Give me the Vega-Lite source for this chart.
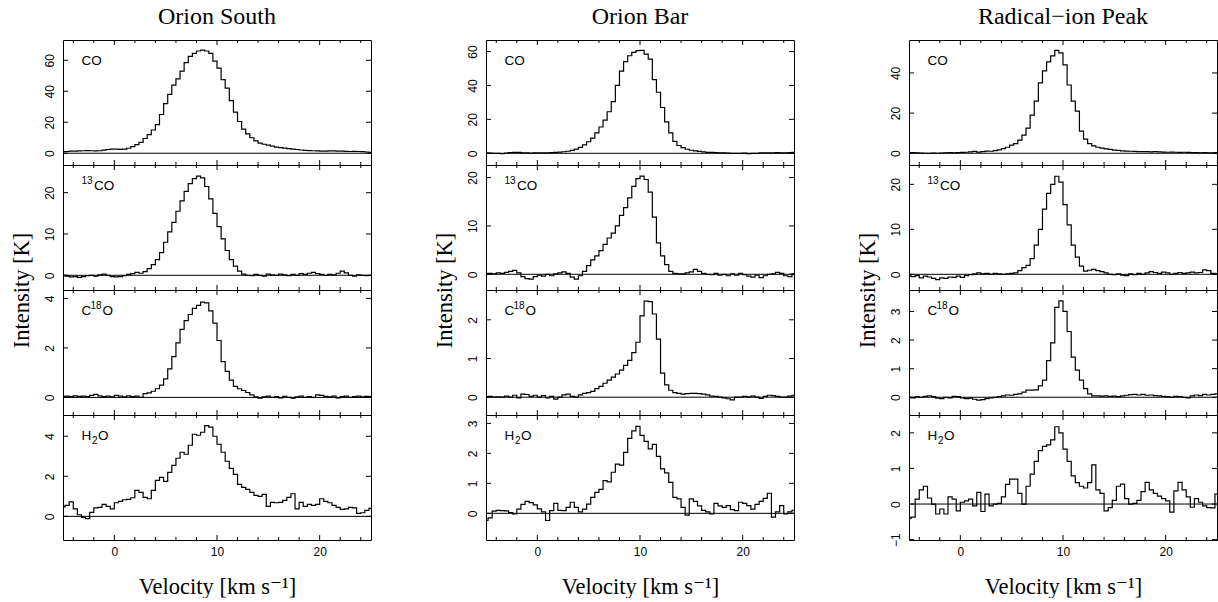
{
"$schema":"https://vega.github.io/schema/vega-lite/v6.json",
"background":"white",
"padding":{"left":9,"top":4,"right":0,"bottom":0},
"config":{"view":{"stroke":"black","strokeWidth":1},
"axis":{"grid":false,"domainColor":"black","tickColor":"black","labelColor":"black","titleColor":"black","labelFont":"Liberation Sans","labelFontSize":12,"titleFont":"Liberation Serif, DejaVu Serif","titleFontSize":22.5,"titleFontWeight":"normal","labelFlush":false,"labelOverlap":false,"labelBound":false},
"title":{"font":"Liberation Serif","fontSize":24,"fontWeight":"normal","color":"black"}},
"datasets":{
"xt":[{"v":-4,"k":"minor"},{"v":-2,"k":"minor"},{"v":0,"k":"major"},{"v":2,"k":"minor"},{"v":4,"k":"minor"},{"v":6,"k":"minor"},{"v":8,"k":"minor"},{"v":10,"k":"major"},{"v":12,"k":"minor"},{"v":14,"k":"minor"},{"v":16,"k":"minor"},{"v":18,"k":"minor"},{"v":20,"k":"major"},{"v":22,"k":"minor"},{"v":24,"k":"minor"}],
"a1":[{"v":-5,"t":1.0},{"v":-4.6,"t":1.1},{"v":-4.2,"t":1.3},{"v":-3.8,"t":1.4},{"v":-3.4,"t":1.5},{"v":-3,"t":1.6},{"v":-2.6,"t":1.7},{"v":-2.2,"t":1.6},{"v":-1.8,"t":1.5},{"v":-1.4,"t":1.6},{"v":-1,"t":2.0},{"v":-0.6,"t":2.4},{"v":-0.2,"t":2.6},{"v":0.2,"t":2.7},{"v":0.6,"t":2.5},{"v":1,"t":2.6},{"v":1.4,"t":3.2},{"v":1.8,"t":4.2},{"v":2.2,"t":5.5},{"v":2.6,"t":7.0},{"v":3,"t":9.5},{"v":3.4,"t":12.0},{"v":3.8,"t":15.0},{"v":4.2,"t":18.5},{"v":4.6,"t":25.0},{"v":5,"t":32.0},{"v":5.4,"t":38.0},{"v":5.8,"t":44.0},{"v":6.2,"t":48.0},{"v":6.6,"t":53.0},{"v":7,"t":58.5},{"v":7.4,"t":62.5},{"v":7.8,"t":64.5},{"v":8.2,"t":66.0},{"v":8.6,"t":66.5},{"v":9,"t":66.0},{"v":9.4,"t":64.5},{"v":9.8,"t":59.5},{"v":10.2,"t":55.0},{"v":10.6,"t":47.5},{"v":11,"t":42.0},{"v":11.4,"t":34.0},{"v":11.8,"t":26.5},{"v":12.2,"t":20.5},{"v":12.6,"t":15.6},{"v":13,"t":12.5},{"v":13.4,"t":10.0},{"v":13.8,"t":8.0},{"v":14.2,"t":6.5},{"v":14.6,"t":5.8},{"v":15,"t":5.2},{"v":15.4,"t":4.6},{"v":15.8,"t":4.0},{"v":16.2,"t":3.6},{"v":16.6,"t":3.3},{"v":17,"t":3.0},{"v":17.4,"t":2.7},{"v":17.8,"t":2.4},{"v":18.2,"t":2.1},{"v":18.6,"t":1.9},{"v":19,"t":1.7},{"v":19.4,"t":1.6},{"v":19.8,"t":1.5},{"v":20.2,"t":1.4},{"v":20.6,"t":1.4},{"v":21,"t":1.5},{"v":21.4,"t":1.5},{"v":21.8,"t":1.4},{"v":22.2,"t":1.3},{"v":22.6,"t":1.2},{"v":23,"t":1.1},{"v":23.4,"t":1.2},{"v":23.8,"t":1.1},{"v":24.2,"t":1.0},{"v":24.6,"t":0.8},{"v":25,"t":0.5}],
"a2":[{"v":-5,"t":0.0},{"v":-4.6,"t":-0.2},{"v":-4.2,"t":-0.4},{"v":-3.8,"t":-0.3},{"v":-3.4,"t":-0.5},{"v":-3,"t":-0.3},{"v":-2.6,"t":-0.1},{"v":-2.2,"t":0.0},{"v":-1.8,"t":-0.2},{"v":-1.4,"t":0.1},{"v":-1,"t":0.3},{"v":-0.6,"t":0.0},{"v":-0.2,"t":-0.3},{"v":0.2,"t":-0.4},{"v":0.6,"t":-0.3},{"v":1,"t":-0.1},{"v":1.4,"t":0.2},{"v":1.8,"t":0.4},{"v":2.2,"t":0.7},{"v":2.6,"t":0.5},{"v":3,"t":0.9},{"v":3.4,"t":1.6},{"v":3.8,"t":2.6},{"v":4.2,"t":3.8},{"v":4.6,"t":5.5},{"v":5,"t":8.0},{"v":5.4,"t":10.5},{"v":5.8,"t":12.8},{"v":6.2,"t":15.5},{"v":6.6,"t":18.0},{"v":7,"t":20.3},{"v":7.4,"t":22.2},{"v":7.8,"t":23.4},{"v":8.2,"t":24.0},{"v":8.6,"t":23.6},{"v":9,"t":21.5},{"v":9.4,"t":18.5},{"v":9.8,"t":15.0},{"v":10.2,"t":11.8},{"v":10.6,"t":8.8},{"v":11,"t":6.0},{"v":11.4,"t":3.8},{"v":11.8,"t":2.2},{"v":12.2,"t":1.0},{"v":12.6,"t":0.3},{"v":13,"t":0.0},{"v":13.4,"t":-0.1},{"v":13.8,"t":0.2},{"v":14.2,"t":0.0},{"v":14.6,"t":-0.2},{"v":15,"t":0.3},{"v":15.4,"t":0.1},{"v":15.8,"t":0.0},{"v":16.2,"t":0.3},{"v":16.6,"t":0.1},{"v":17,"t":-0.1},{"v":17.4,"t":0.2},{"v":17.8,"t":0.0},{"v":18.2,"t":0.4},{"v":18.6,"t":0.2},{"v":19,"t":0.5},{"v":19.4,"t":0.7},{"v":19.8,"t":0.4},{"v":20.2,"t":0.2},{"v":20.6,"t":0.0},{"v":21,"t":0.2},{"v":21.4,"t":0.1},{"v":21.8,"t":0.5},{"v":22.2,"t":1.0},{"v":22.6,"t":0.6},{"v":23,"t":0.0},{"v":23.4,"t":-0.2},{"v":23.8,"t":0.1},{"v":24.2,"t":0.0},{"v":24.6,"t":-0.1},{"v":25,"t":0.0}],
"a3":[{"v":-5,"t":0.02},{"v":-4.6,"t":0.05},{"v":-4.2,"t":0.03},{"v":-3.8,"t":0.06},{"v":-3.4,"t":0.04},{"v":-3,"t":0.05},{"v":-2.6,"t":0.03},{"v":-2.2,"t":0.08},{"v":-1.8,"t":0.12},{"v":-1.4,"t":0.06},{"v":-1,"t":0.03},{"v":-0.6,"t":0.05},{"v":-0.2,"t":0.02},{"v":0.2,"t":0.08},{"v":0.6,"t":0.05},{"v":1,"t":0.02},{"v":1.4,"t":0.06},{"v":1.8,"t":0.03},{"v":2.2,"t":0.05},{"v":2.6,"t":0.0},{"v":3,"t":0.15},{"v":3.4,"t":0.18},{"v":3.8,"t":0.25},{"v":4.2,"t":0.35},{"v":4.6,"t":0.5},{"v":5,"t":0.75},{"v":5.4,"t":1.15},{"v":5.8,"t":1.65},{"v":6.2,"t":2.2},{"v":6.6,"t":2.75},{"v":7,"t":3.1},{"v":7.4,"t":3.35},{"v":7.8,"t":3.6},{"v":8.2,"t":3.72},{"v":8.6,"t":3.85},{"v":9,"t":3.82},{"v":9.4,"t":3.5},{"v":9.8,"t":3.0},{"v":10.2,"t":2.3},{"v":10.6,"t":1.45},{"v":11,"t":1.05},{"v":11.4,"t":0.7},{"v":11.8,"t":0.45},{"v":12.2,"t":0.35},{"v":12.6,"t":0.28},{"v":13,"t":0.2},{"v":13.4,"t":0.1},{"v":13.8,"t":0.02},{"v":14.2,"t":-0.03},{"v":14.6,"t":0.02},{"v":15,"t":0.05},{"v":15.4,"t":0.0},{"v":15.8,"t":0.03},{"v":16.2,"t":-0.02},{"v":16.6,"t":0.04},{"v":17,"t":0.0},{"v":17.4,"t":-0.03},{"v":17.8,"t":0.02},{"v":18.2,"t":0.05},{"v":18.6,"t":0.0},{"v":19,"t":0.03},{"v":19.4,"t":0.0},{"v":19.8,"t":0.1},{"v":20.2,"t":0.08},{"v":20.6,"t":0.04},{"v":21,"t":0.02},{"v":21.4,"t":0.05},{"v":21.8,"t":-0.02},{"v":22.2,"t":0.03},{"v":22.6,"t":0.05},{"v":23,"t":0.0},{"v":23.4,"t":0.03},{"v":23.8,"t":0.05},{"v":24.2,"t":0.02},{"v":24.6,"t":0.04},{"v":25,"t":0.03}],
"a4":[{"v":-5,"t":0.47},{"v":-4.6,"t":0.55},{"v":-4.2,"t":0.72},{"v":-3.8,"t":0.37},{"v":-3.4,"t":0.08},{"v":-3,"t":-0.05},{"v":-2.6,"t":-0.11},{"v":-2.2,"t":0.2},{"v":-1.8,"t":0.42},{"v":-1.4,"t":0.45},{"v":-1,"t":0.6},{"v":-0.6,"t":0.5},{"v":-0.2,"t":0.37},{"v":0.2,"t":0.68},{"v":0.6,"t":0.75},{"v":1,"t":0.83},{"v":1.4,"t":0.85},{"v":1.8,"t":0.93},{"v":2.2,"t":1.3},{"v":2.6,"t":1.2},{"v":3,"t":0.95},{"v":3.4,"t":0.88},{"v":3.8,"t":1.3},{"v":4.2,"t":1.8},{"v":4.6,"t":1.95},{"v":5,"t":1.75},{"v":5.4,"t":2.2},{"v":5.8,"t":2.55},{"v":6.2,"t":2.9},{"v":6.6,"t":3.2},{"v":7,"t":3.1},{"v":7.4,"t":3.55},{"v":7.8,"t":4.1},{"v":8.2,"t":4.05},{"v":8.6,"t":4.2},{"v":9,"t":4.53},{"v":9.4,"t":4.45},{"v":9.8,"t":4.0},{"v":10.2,"t":3.6},{"v":10.6,"t":3.2},{"v":11,"t":2.75},{"v":11.4,"t":2.4},{"v":11.8,"t":2.1},{"v":12.2,"t":1.6},{"v":12.6,"t":1.45},{"v":13,"t":1.35},{"v":13.4,"t":1.2},{"v":13.8,"t":1.05},{"v":14.2,"t":1.0},{"v":14.6,"t":1.1},{"v":15,"t":0.5},{"v":15.4,"t":0.7},{"v":15.8,"t":0.68},{"v":16.2,"t":0.7},{"v":16.6,"t":0.8},{"v":17,"t":0.95},{"v":17.4,"t":1.13},{"v":17.8,"t":0.37},{"v":18.2,"t":0.7},{"v":18.6,"t":0.5},{"v":19,"t":0.6},{"v":19.4,"t":0.55},{"v":19.8,"t":0.6},{"v":20.2,"t":0.88},{"v":20.6,"t":0.75},{"v":21,"t":0.68},{"v":21.4,"t":0.55},{"v":21.8,"t":0.45},{"v":22.2,"t":0.35},{"v":22.6,"t":0.37},{"v":23,"t":0.45},{"v":23.4,"t":0.42},{"v":23.8,"t":0.15},{"v":24.2,"t":0.18},{"v":24.6,"t":0.3},{"v":25,"t":0.4}],
"b1":[{"v":-5,"t":0.2},{"v":-4.6,"t":0.1},{"v":-4.2,"t":0.0},{"v":-3.8,"t":-0.1},{"v":-3.4,"t":-0.2},{"v":-3,"t":0.1},{"v":-2.6,"t":0.4},{"v":-2.2,"t":0.6},{"v":-1.8,"t":0.5},{"v":-1.4,"t":0.3},{"v":-1,"t":0.2},{"v":-0.6,"t":0.1},{"v":-0.2,"t":0.2},{"v":0.2,"t":0.3},{"v":0.6,"t":0.2},{"v":1,"t":0.3},{"v":1.4,"t":0.4},{"v":1.8,"t":0.5},{"v":2.2,"t":0.7},{"v":2.6,"t":0.9},{"v":3,"t":1.2},{"v":3.4,"t":1.7},{"v":3.8,"t":2.5},{"v":4.2,"t":3.5},{"v":4.6,"t":5.0},{"v":5,"t":6.8},{"v":5.4,"t":9.0},{"v":5.8,"t":12.0},{"v":6.2,"t":15.5},{"v":6.6,"t":19.5},{"v":7,"t":24.5},{"v":7.4,"t":30.5},{"v":7.8,"t":40.0},{"v":8.2,"t":48.5},{"v":8.6,"t":54.0},{"v":9,"t":57.5},{"v":9.4,"t":59.5},{"v":9.8,"t":60.5},{"v":10.2,"t":60.7},{"v":10.6,"t":58.5},{"v":11,"t":55.5},{"v":11.4,"t":43.4},{"v":11.8,"t":36.0},{"v":12.2,"t":27.0},{"v":12.6,"t":18.5},{"v":13,"t":12.0},{"v":13.4,"t":7.0},{"v":13.8,"t":4.6},{"v":14.2,"t":3.3},{"v":14.6,"t":2.4},{"v":15,"t":1.8},{"v":15.4,"t":1.4},{"v":15.8,"t":1.1},{"v":16.2,"t":0.8},{"v":16.6,"t":0.6},{"v":17,"t":0.5},{"v":17.4,"t":0.4},{"v":17.8,"t":0.3},{"v":18.2,"t":0.2},{"v":18.6,"t":0.1},{"v":19,"t":0.0},{"v":19.4,"t":-0.1},{"v":19.8,"t":0.0},{"v":20.2,"t":0.1},{"v":20.6,"t":-0.2},{"v":21,"t":-0.1},{"v":21.4,"t":0.0},{"v":21.8,"t":0.2},{"v":22.2,"t":0.3},{"v":22.6,"t":0.2},{"v":23,"t":0.3},{"v":23.4,"t":0.4},{"v":23.8,"t":0.3},{"v":24.2,"t":0.2},{"v":24.6,"t":0.4},{"v":25,"t":0.6}],
"b2":[{"v":-5,"t":0.1},{"v":-4.6,"t":0.2},{"v":-4.2,"t":0.1},{"v":-3.8,"t":0.3},{"v":-3.4,"t":0.2},{"v":-3,"t":0.4},{"v":-2.6,"t":0.6},{"v":-2.2,"t":0.8},{"v":-1.8,"t":0.3},{"v":-1.4,"t":-0.5},{"v":-1,"t":-0.9},{"v":-0.6,"t":-1.0},{"v":-0.2,"t":-0.5},{"v":0.2,"t":-0.2},{"v":0.6,"t":-0.4},{"v":1,"t":0.0},{"v":1.4,"t":-0.3},{"v":1.8,"t":0.1},{"v":2.2,"t":0.3},{"v":2.6,"t":0.5},{"v":3,"t":0.2},{"v":3.4,"t":-0.6},{"v":3.8,"t":-1.0},{"v":4.2,"t":-0.3},{"v":4.6,"t":0.6},{"v":5,"t":1.8},{"v":5.4,"t":3.0},{"v":5.8,"t":3.8},{"v":6.2,"t":4.9},{"v":6.6,"t":6.2},{"v":7,"t":7.5},{"v":7.4,"t":8.5},{"v":7.8,"t":10.0},{"v":8.2,"t":12.2},{"v":8.6,"t":13.8},{"v":9,"t":15.8},{"v":9.4,"t":18.2},{"v":9.8,"t":19.8},{"v":10.2,"t":20.3},{"v":10.6,"t":19.6},{"v":11,"t":17.0},{"v":11.4,"t":11.8},{"v":11.8,"t":6.5},{"v":12.2,"t":3.8},{"v":12.6,"t":2.0},{"v":13,"t":0.6},{"v":13.4,"t":0.2},{"v":13.8,"t":0.1},{"v":14.2,"t":0.1},{"v":14.6,"t":0.3},{"v":15,"t":0.5},{"v":15.4,"t":1.0},{"v":15.8,"t":0.6},{"v":16.2,"t":0.2},{"v":16.6,"t":0.0},{"v":17,"t":-0.1},{"v":17.4,"t":0.2},{"v":17.8,"t":-0.2},{"v":18.2,"t":0.0},{"v":18.6,"t":-0.3},{"v":19,"t":0.1},{"v":19.4,"t":-0.2},{"v":19.8,"t":0.2},{"v":20.2,"t":-0.1},{"v":20.6,"t":-0.4},{"v":21,"t":-0.6},{"v":21.4,"t":-0.2},{"v":21.8,"t":-0.7},{"v":22.2,"t":-0.3},{"v":22.6,"t":0.0},{"v":23,"t":0.1},{"v":23.4,"t":0.4},{"v":23.8,"t":0.2},{"v":24.2,"t":-0.3},{"v":24.6,"t":-0.5},{"v":25,"t":0.1}],
"b3":[{"v":-5,"t":0.0},{"v":-4.6,"t":0.02},{"v":-4.2,"t":0.0},{"v":-3.8,"t":0.01},{"v":-3.4,"t":0.0},{"v":-3,"t":0.03},{"v":-2.6,"t":0.0},{"v":-2.2,"t":0.05},{"v":-1.8,"t":-0.02},{"v":-1.4,"t":0.08},{"v":-1,"t":0.07},{"v":-0.6,"t":0.02},{"v":-0.2,"t":0.05},{"v":0.2,"t":0.0},{"v":0.6,"t":0.04},{"v":1,"t":-0.02},{"v":1.4,"t":0.02},{"v":1.8,"t":-0.05},{"v":2.2,"t":0.0},{"v":2.6,"t":0.06},{"v":3,"t":0.08},{"v":3.4,"t":0.02},{"v":3.8,"t":0.0},{"v":4.2,"t":0.06},{"v":4.6,"t":0.1},{"v":5,"t":0.12},{"v":5.4,"t":0.15},{"v":5.8,"t":0.22},{"v":6.2,"t":0.28},{"v":6.6,"t":0.36},{"v":7,"t":0.44},{"v":7.4,"t":0.52},{"v":7.8,"t":0.6},{"v":8.2,"t":0.7},{"v":8.6,"t":0.82},{"v":9,"t":0.95},{"v":9.4,"t":1.15},{"v":9.8,"t":1.42},{"v":10.2,"t":2.1},{"v":10.6,"t":2.48},{"v":11,"t":2.47},{"v":11.4,"t":2.15},{"v":11.8,"t":1.5},{"v":12.2,"t":0.62},{"v":12.6,"t":0.32},{"v":13,"t":0.18},{"v":13.4,"t":0.12},{"v":13.8,"t":0.1},{"v":14.2,"t":0.08},{"v":14.6,"t":0.09},{"v":15,"t":0.1},{"v":15.4,"t":0.1},{"v":15.8,"t":0.09},{"v":16.2,"t":0.08},{"v":16.6,"t":0.06},{"v":17,"t":0.03},{"v":17.4,"t":0.02},{"v":17.8,"t":0.0},{"v":18.2,"t":-0.02},{"v":18.6,"t":-0.04},{"v":19,"t":-0.07},{"v":19.4,"t":0.0},{"v":19.8,"t":0.0},{"v":20.2,"t":0.02},{"v":20.6,"t":0.01},{"v":21,"t":0.03},{"v":21.4,"t":0.0},{"v":21.8,"t":-0.03},{"v":22.2,"t":0.02},{"v":22.6,"t":0.05},{"v":23,"t":0.04},{"v":23.4,"t":0.02},{"v":23.8,"t":0.0},{"v":24.2,"t":0.0},{"v":24.6,"t":0.03},{"v":25,"t":0.05}],
"b4":[{"v":-5,"t":-0.24},{"v":-4.6,"t":-0.15},{"v":-4.2,"t":0.07},{"v":-3.8,"t":0.1},{"v":-3.4,"t":0.09},{"v":-3,"t":0.08},{"v":-2.6,"t":0.02},{"v":-2.2,"t":-0.02},{"v":-1.8,"t":0.14},{"v":-1.4,"t":0.3},{"v":-1,"t":0.4},{"v":-0.6,"t":0.36},{"v":-0.2,"t":0.28},{"v":0.2,"t":0.15},{"v":0.6,"t":0.05},{"v":1,"t":-0.24},{"v":1.4,"t":0.09},{"v":1.8,"t":0.33},{"v":2.2,"t":0.1},{"v":2.6,"t":0.09},{"v":3,"t":0.2},{"v":3.4,"t":0.37},{"v":3.8,"t":0.2},{"v":4.2,"t":0.05},{"v":4.6,"t":0.14},{"v":5,"t":0.31},{"v":5.4,"t":0.53},{"v":5.8,"t":0.7},{"v":6.2,"t":0.8},{"v":6.6,"t":1.09},{"v":7,"t":1.05},{"v":7.4,"t":1.37},{"v":7.8,"t":1.64},{"v":8.2,"t":1.61},{"v":8.6,"t":2.03},{"v":9,"t":2.5},{"v":9.4,"t":2.75},{"v":9.8,"t":2.9},{"v":10.2,"t":2.6},{"v":10.6,"t":2.4},{"v":11,"t":2.15},{"v":11.4,"t":2.3},{"v":11.8,"t":1.9},{"v":12.2,"t":1.48},{"v":12.6,"t":1.35},{"v":13,"t":1.03},{"v":13.4,"t":0.53},{"v":13.8,"t":0.48},{"v":14.2,"t":0.2},{"v":14.6,"t":-0.06},{"v":15,"t":0.48},{"v":15.4,"t":0.4},{"v":15.8,"t":0.25},{"v":16.2,"t":0.1},{"v":16.6,"t":0.05},{"v":17,"t":-0.02},{"v":17.4,"t":0.33},{"v":17.8,"t":0.25},{"v":18.2,"t":0.2},{"v":18.6,"t":0.26},{"v":19,"t":0.12},{"v":19.4,"t":0.09},{"v":19.8,"t":0.37},{"v":20.2,"t":0.33},{"v":20.6,"t":0.26},{"v":21,"t":0.14},{"v":21.4,"t":0.3},{"v":21.8,"t":0.4},{"v":22.2,"t":0.5},{"v":22.6,"t":0.67},{"v":23,"t":-0.13},{"v":23.4,"t":0.05},{"v":23.8,"t":0.26},{"v":24.2,"t":-0.02},{"v":24.6,"t":0.05},{"v":25,"t":0.1}],
"c1":[{"v":-5,"t":0.2},{"v":-4.6,"t":0.3},{"v":-4.2,"t":0.2},{"v":-3.8,"t":0.1},{"v":-3.4,"t":0.0},{"v":-3,"t":0.0},{"v":-2.6,"t":0.1},{"v":-2.2,"t":0.0},{"v":-1.8,"t":0.1},{"v":-1.4,"t":0.2},{"v":-1,"t":0.3},{"v":-0.6,"t":0.2},{"v":-0.2,"t":0.3},{"v":0.2,"t":0.4},{"v":0.6,"t":0.5},{"v":1,"t":0.7},{"v":1.4,"t":0.9},{"v":1.8,"t":0.6},{"v":2.2,"t":0.8},{"v":2.6,"t":1.1},{"v":3,"t":1.0},{"v":3.4,"t":1.3},{"v":3.8,"t":1.7},{"v":4.2,"t":2.3},{"v":4.6,"t":3.0},{"v":5,"t":4.0},{"v":5.4,"t":4.8},{"v":5.8,"t":6.5},{"v":6.2,"t":9.0},{"v":6.6,"t":12.5},{"v":7,"t":19.0},{"v":7.4,"t":26.0},{"v":7.8,"t":35.0},{"v":8.2,"t":41.0},{"v":8.6,"t":45.5},{"v":9,"t":48.5},{"v":9.4,"t":51.2},{"v":9.8,"t":50.0},{"v":10.2,"t":44.0},{"v":10.6,"t":34.0},{"v":11,"t":26.0},{"v":11.4,"t":21.0},{"v":11.8,"t":11.0},{"v":12.2,"t":7.0},{"v":12.6,"t":4.8},{"v":13,"t":3.7},{"v":13.4,"t":3.0},{"v":13.8,"t":2.6},{"v":14.2,"t":2.2},{"v":14.6,"t":1.9},{"v":15,"t":1.6},{"v":15.4,"t":1.4},{"v":15.8,"t":1.2},{"v":16.2,"t":1.1},{"v":16.6,"t":1.0},{"v":17,"t":0.9},{"v":17.4,"t":0.8},{"v":17.8,"t":0.8},{"v":18.2,"t":0.8},{"v":18.6,"t":0.7},{"v":19,"t":0.8},{"v":19.4,"t":0.7},{"v":19.8,"t":0.6},{"v":20.2,"t":0.5},{"v":20.6,"t":0.6},{"v":21,"t":0.5},{"v":21.4,"t":0.4},{"v":21.8,"t":0.5},{"v":22.2,"t":0.4},{"v":22.6,"t":0.3},{"v":23,"t":0.3},{"v":23.4,"t":0.2},{"v":23.8,"t":0.3},{"v":24.2,"t":0.2},{"v":24.6,"t":0.2},{"v":25,"t":0.3}],
"c2":[{"v":-5,"t":-0.2},{"v":-4.6,"t":-0.5},{"v":-4.2,"t":-0.3},{"v":-3.8,"t":-0.8},{"v":-3.4,"t":-0.4},{"v":-3,"t":-0.6},{"v":-2.6,"t":-0.9},{"v":-2.2,"t":-1.2},{"v":-1.8,"t":-0.8},{"v":-1.4,"t":-0.9},{"v":-1,"t":-0.6},{"v":-0.6,"t":-0.7},{"v":-0.2,"t":-0.4},{"v":0.2,"t":-0.7},{"v":0.6,"t":-0.3},{"v":1,"t":-0.1},{"v":1.4,"t":0.1},{"v":1.8,"t":0.3},{"v":2.2,"t":0.1},{"v":2.6,"t":0.2},{"v":3,"t":0.0},{"v":3.4,"t":0.2},{"v":3.8,"t":0.1},{"v":4.2,"t":0.0},{"v":4.6,"t":0.1},{"v":5,"t":0.2},{"v":5.4,"t":0.3},{"v":5.8,"t":0.8},{"v":6.2,"t":1.5},{"v":6.6,"t":2.0},{"v":7,"t":3.5},{"v":7.4,"t":6.5},{"v":7.8,"t":10.0},{"v":8.2,"t":14.5},{"v":8.6,"t":18.0},{"v":9,"t":20.0},{"v":9.4,"t":21.8},{"v":9.8,"t":20.5},{"v":10.2,"t":15.5},{"v":10.6,"t":11.0},{"v":11,"t":6.5},{"v":11.4,"t":3.8},{"v":11.8,"t":1.8},{"v":12.2,"t":0.7},{"v":12.6,"t":0.9},{"v":13,"t":1.1},{"v":13.4,"t":0.8},{"v":13.8,"t":0.6},{"v":14.2,"t":0.3},{"v":14.6,"t":0.0},{"v":15,"t":-0.1},{"v":15.4,"t":0.1},{"v":15.8,"t":-0.2},{"v":16.2,"t":-0.3},{"v":16.6,"t":0.1},{"v":17,"t":-0.1},{"v":17.4,"t":0.2},{"v":17.8,"t":0.0},{"v":18.2,"t":0.3},{"v":18.6,"t":0.6},{"v":19,"t":0.4},{"v":19.4,"t":0.2},{"v":19.8,"t":0.5},{"v":20.2,"t":0.3},{"v":20.6,"t":0.0},{"v":21,"t":0.2},{"v":21.4,"t":0.4},{"v":21.8,"t":0.2},{"v":22.2,"t":0.3},{"v":22.6,"t":0.5},{"v":23,"t":0.3},{"v":23.4,"t":0.4},{"v":23.8,"t":1.0},{"v":24.2,"t":0.8},{"v":24.6,"t":0.2},{"v":25,"t":0.1}],
"c3":[{"v":-5,"t":0.0},{"v":-4.6,"t":-0.02},{"v":-4.2,"t":0.02},{"v":-3.8,"t":0.0},{"v":-3.4,"t":0.03},{"v":-3,"t":0.05},{"v":-2.6,"t":0.02},{"v":-2.2,"t":-0.03},{"v":-1.8,"t":-0.05},{"v":-1.4,"t":0.0},{"v":-1,"t":-0.02},{"v":-0.6,"t":0.03},{"v":-0.2,"t":0.02},{"v":0.2,"t":-0.02},{"v":0.6,"t":-0.05},{"v":1,"t":-0.03},{"v":1.4,"t":-0.07},{"v":1.8,"t":-0.1},{"v":2.2,"t":-0.08},{"v":2.6,"t":-0.05},{"v":3,"t":-0.02},{"v":3.4,"t":0.0},{"v":3.8,"t":0.02},{"v":4.2,"t":0.05},{"v":4.6,"t":0.08},{"v":5,"t":0.07},{"v":5.4,"t":0.1},{"v":5.8,"t":0.12},{"v":6.2,"t":0.18},{"v":6.6,"t":0.25},{"v":7,"t":0.25},{"v":7.4,"t":0.26},{"v":7.8,"t":0.4},{"v":8.2,"t":0.6},{"v":8.6,"t":1.28},{"v":9,"t":1.9},{"v":9.4,"t":3.14},{"v":9.8,"t":3.37},{"v":10.2,"t":3.0},{"v":10.6,"t":2.3},{"v":11,"t":1.4},{"v":11.4,"t":0.95},{"v":11.8,"t":0.6},{"v":12.2,"t":0.3},{"v":12.6,"t":0.12},{"v":13,"t":0.05},{"v":13.4,"t":0.05},{"v":13.8,"t":0.04},{"v":14.2,"t":0.05},{"v":14.6,"t":0.03},{"v":15,"t":0.04},{"v":15.4,"t":0.02},{"v":15.8,"t":0.05},{"v":16.2,"t":0.07},{"v":16.6,"t":0.09},{"v":17,"t":0.1},{"v":17.4,"t":0.08},{"v":17.8,"t":0.1},{"v":18.2,"t":0.07},{"v":18.6,"t":0.08},{"v":19,"t":0.06},{"v":19.4,"t":0.05},{"v":19.8,"t":0.03},{"v":20.2,"t":0.02},{"v":20.6,"t":0.0},{"v":21,"t":0.03},{"v":21.4,"t":0.02},{"v":21.8,"t":0.0},{"v":22.2,"t":-0.02},{"v":22.6,"t":0.05},{"v":23,"t":0.08},{"v":23.4,"t":0.06},{"v":23.8,"t":0.1},{"v":24.2,"t":0.08},{"v":24.6,"t":0.1},{"v":25,"t":0.12}],
"c4":[{"v":-5,"t":-0.4},{"v":-4.6,"t":-0.37},{"v":-4.2,"t":0.14},{"v":-3.8,"t":0.4},{"v":-3.4,"t":0.5},{"v":-3,"t":0.17},{"v":-2.6,"t":0.0},{"v":-2.2,"t":-0.28},{"v":-1.8,"t":-0.14},{"v":-1.4,"t":-0.28},{"v":-1,"t":0.2},{"v":-0.6,"t":0.14},{"v":-0.2,"t":-0.19},{"v":0.2,"t":0.05},{"v":0.6,"t":0.09},{"v":1,"t":0.14},{"v":1.4,"t":-0.05},{"v":1.8,"t":0.33},{"v":2.2,"t":-0.21},{"v":2.6,"t":0.28},{"v":3,"t":-0.05},{"v":3.4,"t":0.0},{"v":3.8,"t":0.02},{"v":4.2,"t":0.2},{"v":4.6,"t":0.55},{"v":5,"t":0.7},{"v":5.4,"t":0.7},{"v":5.8,"t":0.3},{"v":6.2,"t":0.0},{"v":6.6,"t":0.5},{"v":7,"t":0.84},{"v":7.4,"t":1.2},{"v":7.8,"t":1.5},{"v":8.2,"t":1.62},{"v":8.6,"t":1.66},{"v":9,"t":1.8},{"v":9.4,"t":2.17},{"v":9.8,"t":2.0},{"v":10.2,"t":1.54},{"v":10.6,"t":1.2},{"v":11,"t":0.79},{"v":11.4,"t":0.6},{"v":11.8,"t":0.5},{"v":12.2,"t":0.45},{"v":12.6,"t":0.6},{"v":13,"t":1.1},{"v":13.4,"t":0.4},{"v":13.8,"t":0.3},{"v":14.2,"t":-0.19},{"v":14.6,"t":-0.1},{"v":15,"t":0.1},{"v":15.4,"t":0.5},{"v":15.8,"t":0.56},{"v":16.2,"t":0.15},{"v":16.6,"t":0.0},{"v":17,"t":0.02},{"v":17.4,"t":0.1},{"v":17.8,"t":0.35},{"v":18.2,"t":0.61},{"v":18.6,"t":0.4},{"v":19,"t":0.3},{"v":19.4,"t":0.22},{"v":19.8,"t":0.15},{"v":20.2,"t":0.09},{"v":20.6,"t":-0.23},{"v":21,"t":0.37},{"v":21.4,"t":0.61},{"v":21.8,"t":0.4},{"v":22.2,"t":0.2},{"v":22.6,"t":-0.09},{"v":23,"t":0.15},{"v":23.4,"t":0.05},{"v":23.8,"t":-0.05},{"v":24.2,"t":-0.1},{"v":24.6,"t":-0.11},{"v":25,"t":0.28}]
},
"columns":3,
"spacing":{"row":0,"column":115},
"bounds":"flush",
"concat":[
{"width":308,"height":125,"title":{"text":"Orion South","anchor":"middle","frame":"group","offset":11.5},"layer":[
{"data":{"name":"a1"},"mark":{"type":"line","interpolate":"step","color":"black","strokeWidth":1.2},"encoding":{"x":{"field":"v","type":"quantitative","scale":{"domain":[-5,25],"nice":false,"zero":false},"axis":{"orient":"bottom","values":[0,10,20],"ticks":false,"tickSize":0,"domain":false,"labels":false,"title":null}},"y":{"field":"t","type":"quantitative","scale":{"domain":[-7.6,73.1],"nice":false,"zero":false},"axis":{"orient":"left","values":[0,20,40,60],"ticks":false,"tickSize":0,"domain":false,"labelAngle":270,"labelAlign":"center","labelBaseline":"bottom","labelPadding":7,"title":null}}}},
{"data":{"values":[{"z":0}]},"mark":{"type":"rule","color":"black","strokeWidth":1},"encoding":{"y":{"field":"z","type":"quantitative","scale":{"domain":[-7.6,73.1],"nice":false,"zero":false},"axis":null}}},
{"data":{"values":[{"v":-3.2,"t":59.5,"name":"CO"}]},"mark":{"type":"text","align":"left","baseline":"middle","font":"Liberation Sans","fontSize":13.5,"color":"black"},"encoding":{"text":{"field":"name"},"x":{"field":"v","type":"quantitative","scale":{"domain":[-5,25],"nice":false,"zero":false},"axis":null},"y":{"field":"t","type":"quantitative","scale":{"domain":[-7.6,73.1],"nice":false,"zero":false},"axis":null}}},
{"data":{"name":"xt"},"mark":{"type":"tick","orient":"vertical","color":"black","thickness":1,"opacity":1,"clip":true},"encoding":{"x":{"field":"v","type":"quantitative","scale":{"domain":[-5,25],"nice":false,"zero":false},"axis":null},"y":{"datum":73.1,"type":"quantitative","scale":{"domain":[-7.6,73.1],"nice":false,"zero":false},"axis":null},"size":{"field":"k","type":"ordinal","scale":{"domain":["major","minor"],"range":[10,6]},"legend":null}}},
{"data":{"name":"xt"},"mark":{"type":"tick","orient":"vertical","color":"black","thickness":1,"opacity":1,"clip":true},"encoding":{"x":{"field":"v","type":"quantitative","scale":{"domain":[-5,25],"nice":false,"zero":false},"axis":null},"y":{"datum":-7.6,"type":"quantitative","scale":{"domain":[-7.6,73.1],"nice":false,"zero":false},"axis":null},"size":{"field":"k","type":"ordinal","scale":{"domain":["major","minor"],"range":[10,6]},"legend":null}}},
{"data":{"values":[{"t":0},{"t":20},{"t":40},{"t":60}]},"mark":{"type":"tick","orient":"horizontal","color":"black","thickness":1,"opacity":1,"size":10,"clip":true},"encoding":{"y":{"field":"t","type":"quantitative","scale":{"domain":[-7.6,73.1],"nice":false,"zero":false},"axis":null},"x":{"datum":-5,"type":"quantitative","scale":{"domain":[-5,25],"nice":false,"zero":false},"axis":null}}},
{"data":{"values":[{"t":0},{"t":20},{"t":40},{"t":60}]},"mark":{"type":"tick","orient":"horizontal","color":"black","thickness":1,"opacity":1,"size":10,"clip":true},"encoding":{"y":{"field":"t","type":"quantitative","scale":{"domain":[-7.6,73.1],"nice":false,"zero":false},"axis":null},"x":{"datum":25,"type":"quantitative","scale":{"domain":[-5,25],"nice":false,"zero":false},"axis":null}}}
],"resolve":{"axis":{"x":"independent","y":"independent"}}},
{"width":308,"height":125,"title":{"text":"Orion Bar","anchor":"middle","frame":"group","offset":11.5},"layer":[
{"data":{"name":"b1"},"mark":{"type":"line","interpolate":"step","color":"black","strokeWidth":1.2},"encoding":{"x":{"field":"v","type":"quantitative","scale":{"domain":[-5,25],"nice":false,"zero":false},"axis":{"orient":"bottom","values":[0,10,20],"ticks":false,"tickSize":0,"domain":false,"labels":false,"title":null}},"y":{"field":"t","type":"quantitative","scale":{"domain":[-6.9,66.8],"nice":false,"zero":false},"axis":{"orient":"left","values":[0,20,40,60],"ticks":false,"tickSize":0,"domain":false,"labelAngle":270,"labelAlign":"center","labelBaseline":"bottom","labelPadding":7,"title":null}}}},
{"data":{"values":[{"z":0}]},"mark":{"type":"rule","color":"black","strokeWidth":1},"encoding":{"y":{"field":"z","type":"quantitative","scale":{"domain":[-6.9,66.8],"nice":false,"zero":false},"axis":null}}},
{"data":{"values":[{"v":-3.2,"t":54.4,"name":"CO"}]},"mark":{"type":"text","align":"left","baseline":"middle","font":"Liberation Sans","fontSize":13.5,"color":"black"},"encoding":{"text":{"field":"name"},"x":{"field":"v","type":"quantitative","scale":{"domain":[-5,25],"nice":false,"zero":false},"axis":null},"y":{"field":"t","type":"quantitative","scale":{"domain":[-6.9,66.8],"nice":false,"zero":false},"axis":null}}},
{"data":{"name":"xt"},"mark":{"type":"tick","orient":"vertical","color":"black","thickness":1,"opacity":1,"clip":true},"encoding":{"x":{"field":"v","type":"quantitative","scale":{"domain":[-5,25],"nice":false,"zero":false},"axis":null},"y":{"datum":66.8,"type":"quantitative","scale":{"domain":[-6.9,66.8],"nice":false,"zero":false},"axis":null},"size":{"field":"k","type":"ordinal","scale":{"domain":["major","minor"],"range":[10,6]},"legend":null}}},
{"data":{"name":"xt"},"mark":{"type":"tick","orient":"vertical","color":"black","thickness":1,"opacity":1,"clip":true},"encoding":{"x":{"field":"v","type":"quantitative","scale":{"domain":[-5,25],"nice":false,"zero":false},"axis":null},"y":{"datum":-6.9,"type":"quantitative","scale":{"domain":[-6.9,66.8],"nice":false,"zero":false},"axis":null},"size":{"field":"k","type":"ordinal","scale":{"domain":["major","minor"],"range":[10,6]},"legend":null}}},
{"data":{"values":[{"t":0},{"t":20},{"t":40},{"t":60}]},"mark":{"type":"tick","orient":"horizontal","color":"black","thickness":1,"opacity":1,"size":10,"clip":true},"encoding":{"y":{"field":"t","type":"quantitative","scale":{"domain":[-6.9,66.8],"nice":false,"zero":false},"axis":null},"x":{"datum":-5,"type":"quantitative","scale":{"domain":[-5,25],"nice":false,"zero":false},"axis":null}}},
{"data":{"values":[{"t":0},{"t":20},{"t":40},{"t":60}]},"mark":{"type":"tick","orient":"horizontal","color":"black","thickness":1,"opacity":1,"size":10,"clip":true},"encoding":{"y":{"field":"t","type":"quantitative","scale":{"domain":[-6.9,66.8],"nice":false,"zero":false},"axis":null},"x":{"datum":25,"type":"quantitative","scale":{"domain":[-5,25],"nice":false,"zero":false},"axis":null}}}
],"resolve":{"axis":{"x":"independent","y":"independent"}}},
{"width":308,"height":125,"title":{"text":"Radical−ion Peak","anchor":"middle","frame":"group","offset":11.5},"layer":[
{"data":{"name":"c1"},"mark":{"type":"line","interpolate":"step","color":"black","strokeWidth":1.2},"encoding":{"x":{"field":"v","type":"quantitative","scale":{"domain":[-5,25],"nice":false,"zero":false},"axis":{"orient":"bottom","values":[0,10,20],"ticks":false,"tickSize":0,"domain":false,"labels":false,"title":null}},"y":{"field":"t","type":"quantitative","scale":{"domain":[-5.85,56.4],"nice":false,"zero":false},"axis":{"orient":"left","values":[0,20,40],"ticks":false,"tickSize":0,"domain":false,"labelAngle":270,"labelAlign":"center","labelBaseline":"bottom","labelPadding":7,"title":null}}}},
{"data":{"values":[{"z":0}]},"mark":{"type":"rule","color":"black","strokeWidth":1},"encoding":{"y":{"field":"z","type":"quantitative","scale":{"domain":[-5.85,56.4],"nice":false,"zero":false},"axis":null}}},
{"data":{"values":[{"v":-3.2,"t":45.94,"name":"CO"}]},"mark":{"type":"text","align":"left","baseline":"middle","font":"Liberation Sans","fontSize":13.5,"color":"black"},"encoding":{"text":{"field":"name"},"x":{"field":"v","type":"quantitative","scale":{"domain":[-5,25],"nice":false,"zero":false},"axis":null},"y":{"field":"t","type":"quantitative","scale":{"domain":[-5.85,56.4],"nice":false,"zero":false},"axis":null}}},
{"data":{"name":"xt"},"mark":{"type":"tick","orient":"vertical","color":"black","thickness":1,"opacity":1,"clip":true},"encoding":{"x":{"field":"v","type":"quantitative","scale":{"domain":[-5,25],"nice":false,"zero":false},"axis":null},"y":{"datum":56.4,"type":"quantitative","scale":{"domain":[-5.85,56.4],"nice":false,"zero":false},"axis":null},"size":{"field":"k","type":"ordinal","scale":{"domain":["major","minor"],"range":[10,6]},"legend":null}}},
{"data":{"name":"xt"},"mark":{"type":"tick","orient":"vertical","color":"black","thickness":1,"opacity":1,"clip":true},"encoding":{"x":{"field":"v","type":"quantitative","scale":{"domain":[-5,25],"nice":false,"zero":false},"axis":null},"y":{"datum":-5.85,"type":"quantitative","scale":{"domain":[-5.85,56.4],"nice":false,"zero":false},"axis":null},"size":{"field":"k","type":"ordinal","scale":{"domain":["major","minor"],"range":[10,6]},"legend":null}}},
{"data":{"values":[{"t":0},{"t":20},{"t":40}]},"mark":{"type":"tick","orient":"horizontal","color":"black","thickness":1,"opacity":1,"size":10,"clip":true},"encoding":{"y":{"field":"t","type":"quantitative","scale":{"domain":[-5.85,56.4],"nice":false,"zero":false},"axis":null},"x":{"datum":-5,"type":"quantitative","scale":{"domain":[-5,25],"nice":false,"zero":false},"axis":null}}},
{"data":{"values":[{"t":0},{"t":20},{"t":40}]},"mark":{"type":"tick","orient":"horizontal","color":"black","thickness":1,"opacity":1,"size":10,"clip":true},"encoding":{"y":{"field":"t","type":"quantitative","scale":{"domain":[-5.85,56.4],"nice":false,"zero":false},"axis":null},"x":{"datum":25,"type":"quantitative","scale":{"domain":[-5,25],"nice":false,"zero":false},"axis":null}}}
],"resolve":{"axis":{"x":"independent","y":"independent"}}},
{"width":308,"height":125,"layer":[
{"data":{"name":"a2"},"mark":{"type":"line","interpolate":"step","color":"black","strokeWidth":1.2},"encoding":{"x":{"field":"v","type":"quantitative","scale":{"domain":[-5,25],"nice":false,"zero":false},"axis":{"orient":"bottom","values":[0,10,20],"ticks":false,"tickSize":0,"domain":false,"labels":false,"title":null}},"y":{"field":"t","type":"quantitative","scale":{"domain":[-3.56,26.7],"nice":false,"zero":false},"axis":{"orient":"left","values":[0,10,20],"ticks":false,"tickSize":0,"domain":false,"labelAngle":270,"labelAlign":"center","labelBaseline":"bottom","labelPadding":7,"title":"Intensity [K]","titleX":-42,"titleY":125,"titleAngle":270,"titleAlign":"center","titleBaseline":"middle"}}}},
{"data":{"values":[{"z":0}]},"mark":{"type":"rule","color":"black","strokeWidth":1},"encoding":{"y":{"field":"z","type":"quantitative","scale":{"domain":[-3.56,26.7],"nice":false,"zero":false},"axis":null}}},
{"data":{"values":[{"v":-3.2,"t":21.6,"name":"13"}]},"mark":{"type":"text","align":"left","baseline":"middle","font":"Liberation Sans","fontSize":10,"dy":-5,"color":"black"},"encoding":{"text":{"field":"name"},"x":{"field":"v","type":"quantitative","scale":{"domain":[-5,25],"nice":false,"zero":false},"axis":null},"y":{"field":"t","type":"quantitative","scale":{"domain":[-3.56,26.7],"nice":false,"zero":false},"axis":null}}},
{"data":{"values":[{"v":-3.2,"t":21.6,"name":"CO"}]},"mark":{"type":"text","align":"left","baseline":"middle","font":"Liberation Sans","fontSize":13.5,"dx":12.5,"color":"black"},"encoding":{"text":{"field":"name"},"x":{"field":"v","type":"quantitative","scale":{"domain":[-5,25],"nice":false,"zero":false},"axis":null},"y":{"field":"t","type":"quantitative","scale":{"domain":[-3.56,26.7],"nice":false,"zero":false},"axis":null}}},
{"data":{"name":"xt"},"mark":{"type":"tick","orient":"vertical","color":"black","thickness":1,"opacity":1,"clip":true},"encoding":{"x":{"field":"v","type":"quantitative","scale":{"domain":[-5,25],"nice":false,"zero":false},"axis":null},"y":{"datum":26.7,"type":"quantitative","scale":{"domain":[-3.56,26.7],"nice":false,"zero":false},"axis":null},"size":{"field":"k","type":"ordinal","scale":{"domain":["major","minor"],"range":[10,6]},"legend":null}}},
{"data":{"name":"xt"},"mark":{"type":"tick","orient":"vertical","color":"black","thickness":1,"opacity":1,"clip":true},"encoding":{"x":{"field":"v","type":"quantitative","scale":{"domain":[-5,25],"nice":false,"zero":false},"axis":null},"y":{"datum":-3.56,"type":"quantitative","scale":{"domain":[-3.56,26.7],"nice":false,"zero":false},"axis":null},"size":{"field":"k","type":"ordinal","scale":{"domain":["major","minor"],"range":[10,6]},"legend":null}}},
{"data":{"values":[{"t":0},{"t":10},{"t":20}]},"mark":{"type":"tick","orient":"horizontal","color":"black","thickness":1,"opacity":1,"size":10,"clip":true},"encoding":{"y":{"field":"t","type":"quantitative","scale":{"domain":[-3.56,26.7],"nice":false,"zero":false},"axis":null},"x":{"datum":-5,"type":"quantitative","scale":{"domain":[-5,25],"nice":false,"zero":false},"axis":null}}},
{"data":{"values":[{"t":0},{"t":10},{"t":20}]},"mark":{"type":"tick","orient":"horizontal","color":"black","thickness":1,"opacity":1,"size":10,"clip":true},"encoding":{"y":{"field":"t","type":"quantitative","scale":{"domain":[-3.56,26.7],"nice":false,"zero":false},"axis":null},"x":{"datum":25,"type":"quantitative","scale":{"domain":[-5,25],"nice":false,"zero":false},"axis":null}}}
],"resolve":{"axis":{"x":"independent","y":"independent"}}},
{"width":308,"height":125,"layer":[
{"data":{"name":"b2"},"mark":{"type":"line","interpolate":"step","color":"black","strokeWidth":1.2},"encoding":{"x":{"field":"v","type":"quantitative","scale":{"domain":[-5,25],"nice":false,"zero":false},"axis":{"orient":"bottom","values":[0,10,20],"ticks":false,"tickSize":0,"domain":false,"labels":false,"title":null}},"y":{"field":"t","type":"quantitative","scale":{"domain":[-3.25,22.6],"nice":false,"zero":false},"axis":{"orient":"left","values":[0,10,20],"ticks":false,"tickSize":0,"domain":false,"labelAngle":270,"labelAlign":"center","labelBaseline":"bottom","labelPadding":7,"title":"Intensity [K]","titleX":-42,"titleY":125,"titleAngle":270,"titleAlign":"center","titleBaseline":"middle"}}}},
{"data":{"values":[{"z":0}]},"mark":{"type":"rule","color":"black","strokeWidth":1},"encoding":{"y":{"field":"z","type":"quantitative","scale":{"domain":[-3.25,22.6],"nice":false,"zero":false},"axis":null}}},
{"data":{"values":[{"v":-3.2,"t":18.26,"name":"13"}]},"mark":{"type":"text","align":"left","baseline":"middle","font":"Liberation Sans","fontSize":10,"dy":-5,"color":"black"},"encoding":{"text":{"field":"name"},"x":{"field":"v","type":"quantitative","scale":{"domain":[-5,25],"nice":false,"zero":false},"axis":null},"y":{"field":"t","type":"quantitative","scale":{"domain":[-3.25,22.6],"nice":false,"zero":false},"axis":null}}},
{"data":{"values":[{"v":-3.2,"t":18.26,"name":"CO"}]},"mark":{"type":"text","align":"left","baseline":"middle","font":"Liberation Sans","fontSize":13.5,"dx":12.5,"color":"black"},"encoding":{"text":{"field":"name"},"x":{"field":"v","type":"quantitative","scale":{"domain":[-5,25],"nice":false,"zero":false},"axis":null},"y":{"field":"t","type":"quantitative","scale":{"domain":[-3.25,22.6],"nice":false,"zero":false},"axis":null}}},
{"data":{"name":"xt"},"mark":{"type":"tick","orient":"vertical","color":"black","thickness":1,"opacity":1,"clip":true},"encoding":{"x":{"field":"v","type":"quantitative","scale":{"domain":[-5,25],"nice":false,"zero":false},"axis":null},"y":{"datum":22.6,"type":"quantitative","scale":{"domain":[-3.25,22.6],"nice":false,"zero":false},"axis":null},"size":{"field":"k","type":"ordinal","scale":{"domain":["major","minor"],"range":[10,6]},"legend":null}}},
{"data":{"name":"xt"},"mark":{"type":"tick","orient":"vertical","color":"black","thickness":1,"opacity":1,"clip":true},"encoding":{"x":{"field":"v","type":"quantitative","scale":{"domain":[-5,25],"nice":false,"zero":false},"axis":null},"y":{"datum":-3.25,"type":"quantitative","scale":{"domain":[-3.25,22.6],"nice":false,"zero":false},"axis":null},"size":{"field":"k","type":"ordinal","scale":{"domain":["major","minor"],"range":[10,6]},"legend":null}}},
{"data":{"values":[{"t":0},{"t":10},{"t":20}]},"mark":{"type":"tick","orient":"horizontal","color":"black","thickness":1,"opacity":1,"size":10,"clip":true},"encoding":{"y":{"field":"t","type":"quantitative","scale":{"domain":[-3.25,22.6],"nice":false,"zero":false},"axis":null},"x":{"datum":-5,"type":"quantitative","scale":{"domain":[-5,25],"nice":false,"zero":false},"axis":null}}},
{"data":{"values":[{"t":0},{"t":10},{"t":20}]},"mark":{"type":"tick","orient":"horizontal","color":"black","thickness":1,"opacity":1,"size":10,"clip":true},"encoding":{"y":{"field":"t","type":"quantitative","scale":{"domain":[-3.25,22.6],"nice":false,"zero":false},"axis":null},"x":{"datum":25,"type":"quantitative","scale":{"domain":[-5,25],"nice":false,"zero":false},"axis":null}}}
],"resolve":{"axis":{"x":"independent","y":"independent"}}},
{"width":308,"height":125,"layer":[
{"data":{"name":"c2"},"mark":{"type":"line","interpolate":"step","color":"black","strokeWidth":1.2},"encoding":{"x":{"field":"v","type":"quantitative","scale":{"domain":[-5,25],"nice":false,"zero":false},"axis":{"orient":"bottom","values":[0,10,20],"ticks":false,"tickSize":0,"domain":false,"labels":false,"title":null}},"y":{"field":"t","type":"quantitative","scale":{"domain":[-3.49,24.3],"nice":false,"zero":false},"axis":{"orient":"left","values":[0,10,20],"ticks":false,"tickSize":0,"domain":false,"labelAngle":270,"labelAlign":"center","labelBaseline":"bottom","labelPadding":7,"title":"Intensity [K]","titleX":-42,"titleY":125,"titleAngle":270,"titleAlign":"center","titleBaseline":"middle"}}}},
{"data":{"values":[{"z":0}]},"mark":{"type":"rule","color":"black","strokeWidth":1},"encoding":{"y":{"field":"z","type":"quantitative","scale":{"domain":[-3.49,24.3],"nice":false,"zero":false},"axis":null}}},
{"data":{"values":[{"v":-3.2,"t":19.63,"name":"13"}]},"mark":{"type":"text","align":"left","baseline":"middle","font":"Liberation Sans","fontSize":10,"dy":-5,"color":"black"},"encoding":{"text":{"field":"name"},"x":{"field":"v","type":"quantitative","scale":{"domain":[-5,25],"nice":false,"zero":false},"axis":null},"y":{"field":"t","type":"quantitative","scale":{"domain":[-3.49,24.3],"nice":false,"zero":false},"axis":null}}},
{"data":{"values":[{"v":-3.2,"t":19.63,"name":"CO"}]},"mark":{"type":"text","align":"left","baseline":"middle","font":"Liberation Sans","fontSize":13.5,"dx":12.5,"color":"black"},"encoding":{"text":{"field":"name"},"x":{"field":"v","type":"quantitative","scale":{"domain":[-5,25],"nice":false,"zero":false},"axis":null},"y":{"field":"t","type":"quantitative","scale":{"domain":[-3.49,24.3],"nice":false,"zero":false},"axis":null}}},
{"data":{"name":"xt"},"mark":{"type":"tick","orient":"vertical","color":"black","thickness":1,"opacity":1,"clip":true},"encoding":{"x":{"field":"v","type":"quantitative","scale":{"domain":[-5,25],"nice":false,"zero":false},"axis":null},"y":{"datum":24.3,"type":"quantitative","scale":{"domain":[-3.49,24.3],"nice":false,"zero":false},"axis":null},"size":{"field":"k","type":"ordinal","scale":{"domain":["major","minor"],"range":[10,6]},"legend":null}}},
{"data":{"name":"xt"},"mark":{"type":"tick","orient":"vertical","color":"black","thickness":1,"opacity":1,"clip":true},"encoding":{"x":{"field":"v","type":"quantitative","scale":{"domain":[-5,25],"nice":false,"zero":false},"axis":null},"y":{"datum":-3.49,"type":"quantitative","scale":{"domain":[-3.49,24.3],"nice":false,"zero":false},"axis":null},"size":{"field":"k","type":"ordinal","scale":{"domain":["major","minor"],"range":[10,6]},"legend":null}}},
{"data":{"values":[{"t":0},{"t":10},{"t":20}]},"mark":{"type":"tick","orient":"horizontal","color":"black","thickness":1,"opacity":1,"size":10,"clip":true},"encoding":{"y":{"field":"t","type":"quantitative","scale":{"domain":[-3.49,24.3],"nice":false,"zero":false},"axis":null},"x":{"datum":-5,"type":"quantitative","scale":{"domain":[-5,25],"nice":false,"zero":false},"axis":null}}},
{"data":{"values":[{"t":0},{"t":10},{"t":20}]},"mark":{"type":"tick","orient":"horizontal","color":"black","thickness":1,"opacity":1,"size":10,"clip":true},"encoding":{"y":{"field":"t","type":"quantitative","scale":{"domain":[-3.49,24.3],"nice":false,"zero":false},"axis":null},"x":{"datum":25,"type":"quantitative","scale":{"domain":[-5,25],"nice":false,"zero":false},"axis":null}}}
],"resolve":{"axis":{"x":"independent","y":"independent"}}},
{"width":308,"height":125,"layer":[
{"data":{"name":"a3"},"mark":{"type":"line","interpolate":"step","color":"black","strokeWidth":1.2},"encoding":{"x":{"field":"v","type":"quantitative","scale":{"domain":[-5,25],"nice":false,"zero":false},"axis":{"orient":"bottom","values":[0,10,20],"ticks":false,"tickSize":0,"domain":false,"labels":false,"title":null}},"y":{"field":"t","type":"quantitative","scale":{"domain":[-0.71,4.34],"nice":false,"zero":false},"axis":{"orient":"left","values":[0,2,4],"ticks":false,"tickSize":0,"domain":false,"labelAngle":270,"labelAlign":"center","labelBaseline":"bottom","labelPadding":7,"title":null}}}},
{"data":{"values":[{"z":0}]},"mark":{"type":"rule","color":"black","strokeWidth":1},"encoding":{"y":{"field":"z","type":"quantitative","scale":{"domain":[-0.71,4.34],"nice":false,"zero":false},"axis":null}}},
{"data":{"values":[{"v":-3.2,"t":3.49,"name":"C"}]},"mark":{"type":"text","align":"left","baseline":"middle","font":"Liberation Sans","fontSize":13.5,"color":"black"},"encoding":{"text":{"field":"name"},"x":{"field":"v","type":"quantitative","scale":{"domain":[-5,25],"nice":false,"zero":false},"axis":null},"y":{"field":"t","type":"quantitative","scale":{"domain":[-0.71,4.34],"nice":false,"zero":false},"axis":null}}},
{"data":{"values":[{"v":-3.2,"t":3.49,"name":"18"}]},"mark":{"type":"text","align":"left","baseline":"middle","font":"Liberation Sans","fontSize":10,"dx":9,"dy":-5,"color":"black"},"encoding":{"text":{"field":"name"},"x":{"field":"v","type":"quantitative","scale":{"domain":[-5,25],"nice":false,"zero":false},"axis":null},"y":{"field":"t","type":"quantitative","scale":{"domain":[-0.71,4.34],"nice":false,"zero":false},"axis":null}}},
{"data":{"values":[{"v":-3.2,"t":3.49,"name":"O"}]},"mark":{"type":"text","align":"left","baseline":"middle","font":"Liberation Sans","fontSize":13.5,"dx":21,"color":"black"},"encoding":{"text":{"field":"name"},"x":{"field":"v","type":"quantitative","scale":{"domain":[-5,25],"nice":false,"zero":false},"axis":null},"y":{"field":"t","type":"quantitative","scale":{"domain":[-0.71,4.34],"nice":false,"zero":false},"axis":null}}},
{"data":{"name":"xt"},"mark":{"type":"tick","orient":"vertical","color":"black","thickness":1,"opacity":1,"clip":true},"encoding":{"x":{"field":"v","type":"quantitative","scale":{"domain":[-5,25],"nice":false,"zero":false},"axis":null},"y":{"datum":4.34,"type":"quantitative","scale":{"domain":[-0.71,4.34],"nice":false,"zero":false},"axis":null},"size":{"field":"k","type":"ordinal","scale":{"domain":["major","minor"],"range":[10,6]},"legend":null}}},
{"data":{"name":"xt"},"mark":{"type":"tick","orient":"vertical","color":"black","thickness":1,"opacity":1,"clip":true},"encoding":{"x":{"field":"v","type":"quantitative","scale":{"domain":[-5,25],"nice":false,"zero":false},"axis":null},"y":{"datum":-0.71,"type":"quantitative","scale":{"domain":[-0.71,4.34],"nice":false,"zero":false},"axis":null},"size":{"field":"k","type":"ordinal","scale":{"domain":["major","minor"],"range":[10,6]},"legend":null}}},
{"data":{"values":[{"t":0},{"t":2},{"t":4}]},"mark":{"type":"tick","orient":"horizontal","color":"black","thickness":1,"opacity":1,"size":10,"clip":true},"encoding":{"y":{"field":"t","type":"quantitative","scale":{"domain":[-0.71,4.34],"nice":false,"zero":false},"axis":null},"x":{"datum":-5,"type":"quantitative","scale":{"domain":[-5,25],"nice":false,"zero":false},"axis":null}}},
{"data":{"values":[{"t":0},{"t":2},{"t":4}]},"mark":{"type":"tick","orient":"horizontal","color":"black","thickness":1,"opacity":1,"size":10,"clip":true},"encoding":{"y":{"field":"t","type":"quantitative","scale":{"domain":[-0.71,4.34],"nice":false,"zero":false},"axis":null},"x":{"datum":25,"type":"quantitative","scale":{"domain":[-5,25],"nice":false,"zero":false},"axis":null}}}
],"resolve":{"axis":{"x":"independent","y":"independent"}}},
{"width":308,"height":125,"layer":[
{"data":{"name":"b3"},"mark":{"type":"line","interpolate":"step","color":"black","strokeWidth":1.2},"encoding":{"x":{"field":"v","type":"quantitative","scale":{"domain":[-5,25],"nice":false,"zero":false},"axis":{"orient":"bottom","values":[0,10,20],"ticks":false,"tickSize":0,"domain":false,"labels":false,"title":null}},"y":{"field":"t","type":"quantitative","scale":{"domain":[-0.46,2.77],"nice":false,"zero":false},"axis":{"orient":"left","values":[0,1,2],"ticks":false,"tickSize":0,"domain":false,"labelAngle":270,"labelAlign":"center","labelBaseline":"bottom","labelPadding":7,"title":null}}}},
{"data":{"values":[{"z":0}]},"mark":{"type":"rule","color":"black","strokeWidth":1},"encoding":{"y":{"field":"z","type":"quantitative","scale":{"domain":[-0.46,2.77],"nice":false,"zero":false},"axis":null}}},
{"data":{"values":[{"v":-3.2,"t":2.23,"name":"C"}]},"mark":{"type":"text","align":"left","baseline":"middle","font":"Liberation Sans","fontSize":13.5,"color":"black"},"encoding":{"text":{"field":"name"},"x":{"field":"v","type":"quantitative","scale":{"domain":[-5,25],"nice":false,"zero":false},"axis":null},"y":{"field":"t","type":"quantitative","scale":{"domain":[-0.46,2.77],"nice":false,"zero":false},"axis":null}}},
{"data":{"values":[{"v":-3.2,"t":2.23,"name":"18"}]},"mark":{"type":"text","align":"left","baseline":"middle","font":"Liberation Sans","fontSize":10,"dx":9,"dy":-5,"color":"black"},"encoding":{"text":{"field":"name"},"x":{"field":"v","type":"quantitative","scale":{"domain":[-5,25],"nice":false,"zero":false},"axis":null},"y":{"field":"t","type":"quantitative","scale":{"domain":[-0.46,2.77],"nice":false,"zero":false},"axis":null}}},
{"data":{"values":[{"v":-3.2,"t":2.23,"name":"O"}]},"mark":{"type":"text","align":"left","baseline":"middle","font":"Liberation Sans","fontSize":13.5,"dx":21,"color":"black"},"encoding":{"text":{"field":"name"},"x":{"field":"v","type":"quantitative","scale":{"domain":[-5,25],"nice":false,"zero":false},"axis":null},"y":{"field":"t","type":"quantitative","scale":{"domain":[-0.46,2.77],"nice":false,"zero":false},"axis":null}}},
{"data":{"name":"xt"},"mark":{"type":"tick","orient":"vertical","color":"black","thickness":1,"opacity":1,"clip":true},"encoding":{"x":{"field":"v","type":"quantitative","scale":{"domain":[-5,25],"nice":false,"zero":false},"axis":null},"y":{"datum":2.77,"type":"quantitative","scale":{"domain":[-0.46,2.77],"nice":false,"zero":false},"axis":null},"size":{"field":"k","type":"ordinal","scale":{"domain":["major","minor"],"range":[10,6]},"legend":null}}},
{"data":{"name":"xt"},"mark":{"type":"tick","orient":"vertical","color":"black","thickness":1,"opacity":1,"clip":true},"encoding":{"x":{"field":"v","type":"quantitative","scale":{"domain":[-5,25],"nice":false,"zero":false},"axis":null},"y":{"datum":-0.46,"type":"quantitative","scale":{"domain":[-0.46,2.77],"nice":false,"zero":false},"axis":null},"size":{"field":"k","type":"ordinal","scale":{"domain":["major","minor"],"range":[10,6]},"legend":null}}},
{"data":{"values":[{"t":0},{"t":1},{"t":2}]},"mark":{"type":"tick","orient":"horizontal","color":"black","thickness":1,"opacity":1,"size":10,"clip":true},"encoding":{"y":{"field":"t","type":"quantitative","scale":{"domain":[-0.46,2.77],"nice":false,"zero":false},"axis":null},"x":{"datum":-5,"type":"quantitative","scale":{"domain":[-5,25],"nice":false,"zero":false},"axis":null}}},
{"data":{"values":[{"t":0},{"t":1},{"t":2}]},"mark":{"type":"tick","orient":"horizontal","color":"black","thickness":1,"opacity":1,"size":10,"clip":true},"encoding":{"y":{"field":"t","type":"quantitative","scale":{"domain":[-0.46,2.77],"nice":false,"zero":false},"axis":null},"x":{"datum":25,"type":"quantitative","scale":{"domain":[-5,25],"nice":false,"zero":false},"axis":null}}}
],"resolve":{"axis":{"x":"independent","y":"independent"}}},
{"width":308,"height":125,"layer":[
{"data":{"name":"c3"},"mark":{"type":"line","interpolate":"step","color":"black","strokeWidth":1.2},"encoding":{"x":{"field":"v","type":"quantitative","scale":{"domain":[-5,25],"nice":false,"zero":false},"axis":{"orient":"bottom","values":[0,10,20],"ticks":false,"tickSize":0,"domain":false,"labels":false,"title":null}},"y":{"field":"t","type":"quantitative","scale":{"domain":[-0.62,3.75],"nice":false,"zero":false},"axis":{"orient":"left","values":[0,1,2,3],"ticks":false,"tickSize":0,"domain":false,"labelAngle":270,"labelAlign":"center","labelBaseline":"bottom","labelPadding":7,"title":null}}}},
{"data":{"values":[{"z":0}]},"mark":{"type":"rule","color":"black","strokeWidth":1},"encoding":{"y":{"field":"z","type":"quantitative","scale":{"domain":[-0.62,3.75],"nice":false,"zero":false},"axis":null}}},
{"data":{"values":[{"v":-3.2,"t":3.02,"name":"C"}]},"mark":{"type":"text","align":"left","baseline":"middle","font":"Liberation Sans","fontSize":13.5,"color":"black"},"encoding":{"text":{"field":"name"},"x":{"field":"v","type":"quantitative","scale":{"domain":[-5,25],"nice":false,"zero":false},"axis":null},"y":{"field":"t","type":"quantitative","scale":{"domain":[-0.62,3.75],"nice":false,"zero":false},"axis":null}}},
{"data":{"values":[{"v":-3.2,"t":3.02,"name":"18"}]},"mark":{"type":"text","align":"left","baseline":"middle","font":"Liberation Sans","fontSize":10,"dx":9,"dy":-5,"color":"black"},"encoding":{"text":{"field":"name"},"x":{"field":"v","type":"quantitative","scale":{"domain":[-5,25],"nice":false,"zero":false},"axis":null},"y":{"field":"t","type":"quantitative","scale":{"domain":[-0.62,3.75],"nice":false,"zero":false},"axis":null}}},
{"data":{"values":[{"v":-3.2,"t":3.02,"name":"O"}]},"mark":{"type":"text","align":"left","baseline":"middle","font":"Liberation Sans","fontSize":13.5,"dx":21,"color":"black"},"encoding":{"text":{"field":"name"},"x":{"field":"v","type":"quantitative","scale":{"domain":[-5,25],"nice":false,"zero":false},"axis":null},"y":{"field":"t","type":"quantitative","scale":{"domain":[-0.62,3.75],"nice":false,"zero":false},"axis":null}}},
{"data":{"name":"xt"},"mark":{"type":"tick","orient":"vertical","color":"black","thickness":1,"opacity":1,"clip":true},"encoding":{"x":{"field":"v","type":"quantitative","scale":{"domain":[-5,25],"nice":false,"zero":false},"axis":null},"y":{"datum":3.75,"type":"quantitative","scale":{"domain":[-0.62,3.75],"nice":false,"zero":false},"axis":null},"size":{"field":"k","type":"ordinal","scale":{"domain":["major","minor"],"range":[10,6]},"legend":null}}},
{"data":{"name":"xt"},"mark":{"type":"tick","orient":"vertical","color":"black","thickness":1,"opacity":1,"clip":true},"encoding":{"x":{"field":"v","type":"quantitative","scale":{"domain":[-5,25],"nice":false,"zero":false},"axis":null},"y":{"datum":-0.62,"type":"quantitative","scale":{"domain":[-0.62,3.75],"nice":false,"zero":false},"axis":null},"size":{"field":"k","type":"ordinal","scale":{"domain":["major","minor"],"range":[10,6]},"legend":null}}},
{"data":{"values":[{"t":0},{"t":1},{"t":2},{"t":3}]},"mark":{"type":"tick","orient":"horizontal","color":"black","thickness":1,"opacity":1,"size":10,"clip":true},"encoding":{"y":{"field":"t","type":"quantitative","scale":{"domain":[-0.62,3.75],"nice":false,"zero":false},"axis":null},"x":{"datum":-5,"type":"quantitative","scale":{"domain":[-5,25],"nice":false,"zero":false},"axis":null}}},
{"data":{"values":[{"t":0},{"t":1},{"t":2},{"t":3}]},"mark":{"type":"tick","orient":"horizontal","color":"black","thickness":1,"opacity":1,"size":10,"clip":true},"encoding":{"y":{"field":"t","type":"quantitative","scale":{"domain":[-0.62,3.75],"nice":false,"zero":false},"axis":null},"x":{"datum":25,"type":"quantitative","scale":{"domain":[-5,25],"nice":false,"zero":false},"axis":null}}}
],"resolve":{"axis":{"x":"independent","y":"independent"}}},
{"width":308,"height":125,"layer":[
{"data":{"name":"a4"},"mark":{"type":"line","interpolate":"step","color":"black","strokeWidth":1.2},"encoding":{"x":{"field":"v","type":"quantitative","scale":{"domain":[-5,25],"nice":false,"zero":false},"axis":{"orient":"bottom","values":[0,10,20],"ticks":false,"tickSize":0,"domain":false,"labelPadding":6,"title":"Velocity [km s⁻¹]","titlePadding":18}},"y":{"field":"t","type":"quantitative","scale":{"domain":[-1.18,5.06],"nice":false,"zero":false},"axis":{"orient":"left","values":[0,2,4],"ticks":false,"tickSize":0,"domain":false,"labelAngle":270,"labelAlign":"center","labelBaseline":"bottom","labelPadding":7,"title":null}}}},
{"data":{"values":[{"z":0}]},"mark":{"type":"rule","color":"black","strokeWidth":1},"encoding":{"y":{"field":"z","type":"quantitative","scale":{"domain":[-1.18,5.06],"nice":false,"zero":false},"axis":null}}},
{"data":{"values":[{"v":-3.2,"t":4.01,"name":"H"}]},"mark":{"type":"text","align":"left","baseline":"middle","font":"Liberation Sans","fontSize":13.5,"color":"black"},"encoding":{"text":{"field":"name"},"x":{"field":"v","type":"quantitative","scale":{"domain":[-5,25],"nice":false,"zero":false},"axis":null},"y":{"field":"t","type":"quantitative","scale":{"domain":[-1.18,5.06],"nice":false,"zero":false},"axis":null}}},
{"data":{"values":[{"v":-3.2,"t":4.01,"name":"2"}]},"mark":{"type":"text","align":"left","baseline":"middle","font":"Liberation Sans","fontSize":10,"dx":10.5,"dy":5,"color":"black"},"encoding":{"text":{"field":"name"},"x":{"field":"v","type":"quantitative","scale":{"domain":[-5,25],"nice":false,"zero":false},"axis":null},"y":{"field":"t","type":"quantitative","scale":{"domain":[-1.18,5.06],"nice":false,"zero":false},"axis":null}}},
{"data":{"values":[{"v":-3.2,"t":4.01,"name":"O"}]},"mark":{"type":"text","align":"left","baseline":"middle","font":"Liberation Sans","fontSize":13.5,"dx":16.5,"color":"black"},"encoding":{"text":{"field":"name"},"x":{"field":"v","type":"quantitative","scale":{"domain":[-5,25],"nice":false,"zero":false},"axis":null},"y":{"field":"t","type":"quantitative","scale":{"domain":[-1.18,5.06],"nice":false,"zero":false},"axis":null}}},
{"data":{"name":"xt"},"mark":{"type":"tick","orient":"vertical","color":"black","thickness":1,"opacity":1,"clip":true},"encoding":{"x":{"field":"v","type":"quantitative","scale":{"domain":[-5,25],"nice":false,"zero":false},"axis":null},"y":{"datum":5.06,"type":"quantitative","scale":{"domain":[-1.18,5.06],"nice":false,"zero":false},"axis":null},"size":{"field":"k","type":"ordinal","scale":{"domain":["major","minor"],"range":[10,6]},"legend":null}}},
{"data":{"name":"xt"},"mark":{"type":"tick","orient":"vertical","color":"black","thickness":1,"opacity":1,"clip":true},"encoding":{"x":{"field":"v","type":"quantitative","scale":{"domain":[-5,25],"nice":false,"zero":false},"axis":null},"y":{"datum":-1.18,"type":"quantitative","scale":{"domain":[-1.18,5.06],"nice":false,"zero":false},"axis":null},"size":{"field":"k","type":"ordinal","scale":{"domain":["major","minor"],"range":[10,6]},"legend":null}}},
{"data":{"values":[{"t":0},{"t":2},{"t":4}]},"mark":{"type":"tick","orient":"horizontal","color":"black","thickness":1,"opacity":1,"size":10,"clip":true},"encoding":{"y":{"field":"t","type":"quantitative","scale":{"domain":[-1.18,5.06],"nice":false,"zero":false},"axis":null},"x":{"datum":-5,"type":"quantitative","scale":{"domain":[-5,25],"nice":false,"zero":false},"axis":null}}},
{"data":{"values":[{"t":0},{"t":2},{"t":4}]},"mark":{"type":"tick","orient":"horizontal","color":"black","thickness":1,"opacity":1,"size":10,"clip":true},"encoding":{"y":{"field":"t","type":"quantitative","scale":{"domain":[-1.18,5.06],"nice":false,"zero":false},"axis":null},"x":{"datum":25,"type":"quantitative","scale":{"domain":[-5,25],"nice":false,"zero":false},"axis":null}}}
],"resolve":{"axis":{"x":"independent","y":"independent"}}},
{"width":308,"height":125,"layer":[
{"data":{"name":"b4"},"mark":{"type":"line","interpolate":"step","color":"black","strokeWidth":1.2},"encoding":{"x":{"field":"v","type":"quantitative","scale":{"domain":[-5,25],"nice":false,"zero":false},"axis":{"orient":"bottom","values":[0,10,20],"ticks":false,"tickSize":0,"domain":false,"labelPadding":6,"title":"Velocity [km s⁻¹]","titlePadding":18}},"y":{"field":"t","type":"quantitative","scale":{"domain":[-0.89,3.28],"nice":false,"zero":false},"axis":{"orient":"left","values":[0,1,2,3],"ticks":false,"tickSize":0,"domain":false,"labelAngle":270,"labelAlign":"center","labelBaseline":"bottom","labelPadding":7,"title":null}}}},
{"data":{"values":[{"z":0}]},"mark":{"type":"rule","color":"black","strokeWidth":1},"encoding":{"y":{"field":"z","type":"quantitative","scale":{"domain":[-0.89,3.28],"nice":false,"zero":false},"axis":null}}},
{"data":{"values":[{"v":-3.2,"t":2.58,"name":"H"}]},"mark":{"type":"text","align":"left","baseline":"middle","font":"Liberation Sans","fontSize":13.5,"color":"black"},"encoding":{"text":{"field":"name"},"x":{"field":"v","type":"quantitative","scale":{"domain":[-5,25],"nice":false,"zero":false},"axis":null},"y":{"field":"t","type":"quantitative","scale":{"domain":[-0.89,3.28],"nice":false,"zero":false},"axis":null}}},
{"data":{"values":[{"v":-3.2,"t":2.58,"name":"2"}]},"mark":{"type":"text","align":"left","baseline":"middle","font":"Liberation Sans","fontSize":10,"dx":10.5,"dy":5,"color":"black"},"encoding":{"text":{"field":"name"},"x":{"field":"v","type":"quantitative","scale":{"domain":[-5,25],"nice":false,"zero":false},"axis":null},"y":{"field":"t","type":"quantitative","scale":{"domain":[-0.89,3.28],"nice":false,"zero":false},"axis":null}}},
{"data":{"values":[{"v":-3.2,"t":2.58,"name":"O"}]},"mark":{"type":"text","align":"left","baseline":"middle","font":"Liberation Sans","fontSize":13.5,"dx":16.5,"color":"black"},"encoding":{"text":{"field":"name"},"x":{"field":"v","type":"quantitative","scale":{"domain":[-5,25],"nice":false,"zero":false},"axis":null},"y":{"field":"t","type":"quantitative","scale":{"domain":[-0.89,3.28],"nice":false,"zero":false},"axis":null}}},
{"data":{"name":"xt"},"mark":{"type":"tick","orient":"vertical","color":"black","thickness":1,"opacity":1,"clip":true},"encoding":{"x":{"field":"v","type":"quantitative","scale":{"domain":[-5,25],"nice":false,"zero":false},"axis":null},"y":{"datum":3.28,"type":"quantitative","scale":{"domain":[-0.89,3.28],"nice":false,"zero":false},"axis":null},"size":{"field":"k","type":"ordinal","scale":{"domain":["major","minor"],"range":[10,6]},"legend":null}}},
{"data":{"name":"xt"},"mark":{"type":"tick","orient":"vertical","color":"black","thickness":1,"opacity":1,"clip":true},"encoding":{"x":{"field":"v","type":"quantitative","scale":{"domain":[-5,25],"nice":false,"zero":false},"axis":null},"y":{"datum":-0.89,"type":"quantitative","scale":{"domain":[-0.89,3.28],"nice":false,"zero":false},"axis":null},"size":{"field":"k","type":"ordinal","scale":{"domain":["major","minor"],"range":[10,6]},"legend":null}}},
{"data":{"values":[{"t":0},{"t":1},{"t":2},{"t":3}]},"mark":{"type":"tick","orient":"horizontal","color":"black","thickness":1,"opacity":1,"size":10,"clip":true},"encoding":{"y":{"field":"t","type":"quantitative","scale":{"domain":[-0.89,3.28],"nice":false,"zero":false},"axis":null},"x":{"datum":-5,"type":"quantitative","scale":{"domain":[-5,25],"nice":false,"zero":false},"axis":null}}},
{"data":{"values":[{"t":0},{"t":1},{"t":2},{"t":3}]},"mark":{"type":"tick","orient":"horizontal","color":"black","thickness":1,"opacity":1,"size":10,"clip":true},"encoding":{"y":{"field":"t","type":"quantitative","scale":{"domain":[-0.89,3.28],"nice":false,"zero":false},"axis":null},"x":{"datum":25,"type":"quantitative","scale":{"domain":[-5,25],"nice":false,"zero":false},"axis":null}}}
],"resolve":{"axis":{"x":"independent","y":"independent"}}},
{"width":308,"height":125,"layer":[
{"data":{"name":"c4"},"mark":{"type":"line","interpolate":"step","color":"black","strokeWidth":1.2},"encoding":{"x":{"field":"v","type":"quantitative","scale":{"domain":[-5,25],"nice":false,"zero":false},"axis":{"orient":"bottom","values":[0,10,20],"ticks":false,"tickSize":0,"domain":false,"labelPadding":6,"title":"Velocity [km s⁻¹]","titlePadding":18}},"y":{"field":"t","type":"quantitative","scale":{"domain":[-1.01,2.5],"nice":false,"zero":false},"axis":{"orient":"left","values":[-1,0,1,2],"ticks":false,"tickSize":0,"domain":false,"labelAngle":270,"labelAlign":"center","labelBaseline":"bottom","labelPadding":7,"title":null}}}},
{"data":{"values":[{"z":0}]},"mark":{"type":"rule","color":"black","strokeWidth":1},"encoding":{"y":{"field":"z","type":"quantitative","scale":{"domain":[-1.01,2.5],"nice":false,"zero":false},"axis":null}}},
{"data":{"values":[{"v":-3.2,"t":1.91,"name":"H"}]},"mark":{"type":"text","align":"left","baseline":"middle","font":"Liberation Sans","fontSize":13.5,"color":"black"},"encoding":{"text":{"field":"name"},"x":{"field":"v","type":"quantitative","scale":{"domain":[-5,25],"nice":false,"zero":false},"axis":null},"y":{"field":"t","type":"quantitative","scale":{"domain":[-1.01,2.5],"nice":false,"zero":false},"axis":null}}},
{"data":{"values":[{"v":-3.2,"t":1.91,"name":"2"}]},"mark":{"type":"text","align":"left","baseline":"middle","font":"Liberation Sans","fontSize":10,"dx":10.5,"dy":5,"color":"black"},"encoding":{"text":{"field":"name"},"x":{"field":"v","type":"quantitative","scale":{"domain":[-5,25],"nice":false,"zero":false},"axis":null},"y":{"field":"t","type":"quantitative","scale":{"domain":[-1.01,2.5],"nice":false,"zero":false},"axis":null}}},
{"data":{"values":[{"v":-3.2,"t":1.91,"name":"O"}]},"mark":{"type":"text","align":"left","baseline":"middle","font":"Liberation Sans","fontSize":13.5,"dx":16.5,"color":"black"},"encoding":{"text":{"field":"name"},"x":{"field":"v","type":"quantitative","scale":{"domain":[-5,25],"nice":false,"zero":false},"axis":null},"y":{"field":"t","type":"quantitative","scale":{"domain":[-1.01,2.5],"nice":false,"zero":false},"axis":null}}},
{"data":{"name":"xt"},"mark":{"type":"tick","orient":"vertical","color":"black","thickness":1,"opacity":1,"clip":true},"encoding":{"x":{"field":"v","type":"quantitative","scale":{"domain":[-5,25],"nice":false,"zero":false},"axis":null},"y":{"datum":2.5,"type":"quantitative","scale":{"domain":[-1.01,2.5],"nice":false,"zero":false},"axis":null},"size":{"field":"k","type":"ordinal","scale":{"domain":["major","minor"],"range":[10,6]},"legend":null}}},
{"data":{"name":"xt"},"mark":{"type":"tick","orient":"vertical","color":"black","thickness":1,"opacity":1,"clip":true},"encoding":{"x":{"field":"v","type":"quantitative","scale":{"domain":[-5,25],"nice":false,"zero":false},"axis":null},"y":{"datum":-1.01,"type":"quantitative","scale":{"domain":[-1.01,2.5],"nice":false,"zero":false},"axis":null},"size":{"field":"k","type":"ordinal","scale":{"domain":["major","minor"],"range":[10,6]},"legend":null}}},
{"data":{"values":[{"t":-1},{"t":0},{"t":1},{"t":2}]},"mark":{"type":"tick","orient":"horizontal","color":"black","thickness":1,"opacity":1,"size":10,"clip":true},"encoding":{"y":{"field":"t","type":"quantitative","scale":{"domain":[-1.01,2.5],"nice":false,"zero":false},"axis":null},"x":{"datum":-5,"type":"quantitative","scale":{"domain":[-5,25],"nice":false,"zero":false},"axis":null}}},
{"data":{"values":[{"t":-1},{"t":0},{"t":1},{"t":2}]},"mark":{"type":"tick","orient":"horizontal","color":"black","thickness":1,"opacity":1,"size":10,"clip":true},"encoding":{"y":{"field":"t","type":"quantitative","scale":{"domain":[-1.01,2.5],"nice":false,"zero":false},"axis":null},"x":{"datum":25,"type":"quantitative","scale":{"domain":[-5,25],"nice":false,"zero":false},"axis":null}}}
],"resolve":{"axis":{"x":"independent","y":"independent"}}}
]
}
